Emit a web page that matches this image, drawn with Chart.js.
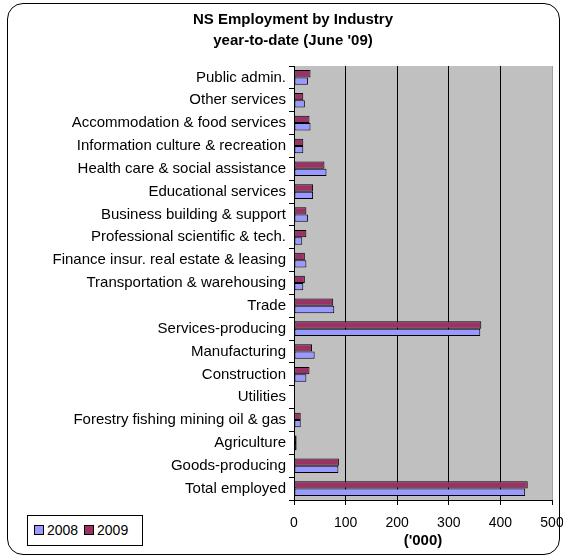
<!DOCTYPE html>
<html lang="en">
<head>
  <meta charset="UTF-8">
  <title>NS Employment by Industry</title>
  <script src="https://cdn.jsdelivr.net/npm/chart.js"></script>
  <style>
    body {
      margin: 0;
      background: #fff;
      font-family: 'Liberation Sans', Arial, sans-serif;
    }

    .wrap {
      position: relative;
      width: 563px;
      height: 558px;
    }

    .frame {
      position: absolute;
      left: 7px;
      top: 3px;
      width: 553px;
      height: 552px;
      border: 1px solid #000;
      border-radius: 16px;
      box-sizing: border-box;
    }

    canvas {
      position: absolute;
      left: 0;
      top: 0;
    }

    #legend {
      position: absolute;
      left: 27px;
      top: 515px;
      width: 116px;
      height: 31px;
      border: 1px solid #000;
      box-sizing: border-box;
      font-size: 14px;
      line-height: 29px;
      padding-left: 6px;
      background: #fff;
    }

    #legend span.sw {
      display: inline-block;
      width: 8px;
      height: 8px;
      border: 1px solid #000;
      margin-right: 3px;
      vertical-align: 0px;
    }
  </style>
</head>
<body>
  <div class="wrap">
    <div class="frame"></div>
    <canvas id="chart" width="563" height="558"></canvas>
    <div id="legend">
      <span class="sw" style="background:#9999ff"></span>2008
      <span class="sw" style="background:#993366; margin-left:2px"></span>2009
    </div>
  </div>

  <script>
    const industries = [
      'Public admin.',
      'Other services',
      'Accommodation & food services',
      'Information culture & recreation',
      'Health care & social assistance',
      'Educational services',
      'Business building & support',
      'Professional scientific & tech.',
      'Finance insur. real estate & leasing',
      'Transportation & warehousing',
      'Trade',
      'Services-producing',
      'Manufacturing',
      'Construction',
      'Utilities',
      'Forestry fishing mining oil & gas',
      'Agriculture',
      'Goods-producing',
      'Total employed'
    ];

    const jobs2009 = [32, 18, 30, 18, 59, 37, 24, 24, 21, 21, 76, 363, 35, 30, null, 13, 5, 87, 453];
    const jobs2008 = [27, 21, 32, 18, 63, 37, 27, 16, 24, 18, 78, 361, 40, 24, null, 13, 5, 86, 448];

    const xTicks = [0, 100, 200, 300, 400, 500];

    const FONT = "'Liberation Sans', Arial, sans-serif";

    // grey plot background
    const plotBg = {
      id: 'plotBg',
      beforeDraw(chart) {
        const { ctx, chartArea: a } = chart;
        ctx.save();
        ctx.fillStyle = '#c0c0c0';
        ctx.fillRect(a.left, a.top, a.right - a.left, a.bottom - a.top);
        ctx.restore();
      }
    };

    new Chart(document.getElementById('chart'), {
      type: 'bar',
      data: {
        labels: industries,
        datasets: [
          {
            label: '2009',
            data: jobs2009,
            backgroundColor: '#993366',
            borderColor: '#000',
            borderWidth: 1,
            borderSkipped: false,
            categoryPercentage: 0.64,
            barPercentage: 1
          },
          {
            label: '2008',
            data: jobs2008,
            backgroundColor: '#9999ff',
            borderColor: '#000',
            borderWidth: 1,
            borderSkipped: false,
            categoryPercentage: 0.64,
            barPercentage: 1
          }
        ]
      },
      plugins: [plotBg],
      options: {
        indexAxis: 'y',
        responsive: false,
        animation: false,
        layout: { padding: { left: 23, right: 0, top: 0, bottom: 8 } },
        plugins: {
          legend: { display: false },
          tooltip: { enabled: false },
          title: {
            display: true,
            text: ['NS Employment by Industry', "year-to-date (June '09)"],
            color: '#000',
            font: { family: FONT, size: 15, weight: 'bold', lineHeight: 1.4 },
            padding: { top: 9, bottom: 15 }
          }
        },
        scales: {
          x: {
            min: 0,
            max: 500,
            afterBuildTicks(scale) {
              scale.ticks = xTicks.map(v => ({ value: v }));
            },
            afterFit(scale) {
              scale.height = 50;
              scale.paddingRight = 11;
            },
            grid: {
              color: c => (c.tick && c.tick.value === 500 ? '#a0a0a0' : '#000'),
              tickColor: '#000',
              tickLength: 5,
              lineWidth: 1
            },
            border: { color: '#000', width: 1 },
            ticks: {
              color: '#000',
              padding: 10,
              font: { family: FONT, size: 14 }
            },
            title: {
              display: true,
              text: "('000)",
              color: '#000',
              font: { family: FONT, size: 15, weight: 'bold' },
              padding: { top: 2, bottom: 0 }
            }
          },
          y: {
            afterFit(scale) { scale.width = 271; },
            grid: {
              drawOnChartArea: false,
              color: '#000',
              tickLength: 5,
              offset: true
            },
            border: { color: '#000', width: 1 },
            ticks: {
              color: '#000',
              padding: 3,
              autoSkip: false,
              font: { family: FONT, size: 15 }
            }
          }
        }
      }
    });
  </script>
</body>
</html>
